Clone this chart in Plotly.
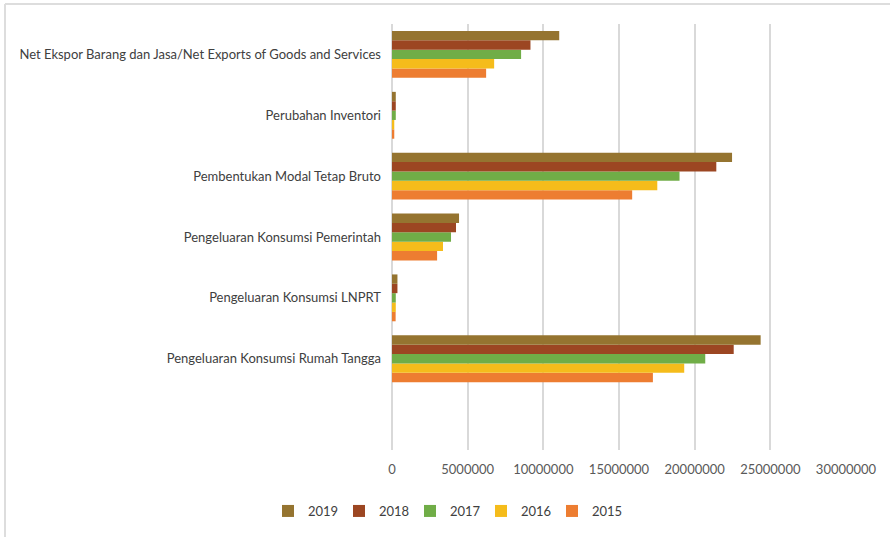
import plotly.graph_objects as go

categories = [
    'Pengeluaran Konsumsi Rumah Tangga',
    'Pengeluaran Konsumsi LNPRT',
    'Pengeluaran Konsumsi Pemerintah',
    'Pembentukan Modal Tetap Bruto',
    'Perubahan Inventori',
    'Net Ekspor Barang dan Jasa/Net Exports of Goods and Services',
]
years = ['2015', '2016', '2017', '2018', '2019']
v2015 = [17240000, 240000, 2980000, 15870000, 150000, 6220000]
v2016 = [19310000, 250000, 3370000, 17530000, 150000, 6750000]
v2017 = [20700000, 250000, 3900000, 19000000, 250000, 8530000]
v2018 = [22580000, 360000, 4230000, 21430000, 250000, 9150000]
v2019 = [24360000, 360000, 4430000, 22470000, 250000, 11050000]
values = [v2015, v2016, v2017, v2018, v2019]
colors = {'2015': '#ED7D31', '2016': '#F5BC1B', '2017': '#70AD47',
          '2018': '#9C4622', '2019': '#957430'}

font = 'Lato, Open Sans, sans-serif'
W, H = 890, 537
L, R, T, B = 392, 44, 24, 87
pw, ph = W - L - R, H - T - B


def main():
    fig = go.Figure()
    for yr, vals in zip(years, values):
        fig.add_trace(go.Bar(y=categories, x=vals, name=yr, orientation='h',
                             marker=dict(color=colors[yr], line=dict(width=0))))

    # light frame: top and left edges only, like the reference
    fx = (5 - L) / pw
    fy = (H - B - 4) / ph
    fig.update_layout(
        barmode='group', bargap=0.23, bargroupgap=0,
        width=W, height=H,
        margin=dict(l=L, r=R, t=T, b=B, autoexpand=False),
        plot_bgcolor='white', paper_bgcolor='white',
        font=dict(family=font, size=13, color='#404040'),
        showlegend=True,
        legend=dict(orientation='h', traceorder='reversed', x=(268 - L) / pw, xanchor='left',
                    y=(H - B - 511) / ph, yanchor='middle', font=dict(size=13, color='#404040'),
                    itemwidth=30, entrywidth=26, entrywidthmode='pixels'),
        shapes=[
            dict(type='line', xref='paper', yref='paper', x0=fx, x1=(W - L) / pw + 0.1,
                 y0=fy, y1=fy, line=dict(color='#DDDDDD', width=2)),
            dict(type='line', xref='paper', yref='paper', x0=fx, x1=fx,
                 y0=fy, y1=-(B + 10) / ph, line=dict(color='#DDDDDD', width=2)),
        ],
    )
    fig.update_xaxes(range=[0, 30000000], dtick=5000000, tickformat='d',
                     showgrid=True, gridcolor='#D9D9D9', gridwidth=1.5,
                     zeroline=True, zerolinecolor='#D9D9D9', zerolinewidth=1.5,
                     tickfont=dict(size=13, color='#595959'), ticklen=0,
                     ticklabelstandoff=10, automargin=False)
    fig.update_yaxes(type='category', range=[-1.5, 5.5], showgrid=False,
                     tickfont=dict(size=13, color='#404040'), ticks='',
                     ticklabelstandoff=10, automargin=False)
    fig.write_html('out.html', config={'displayModeBar': False},
                   post_script="document.body.style.margin='0';")


if __name__ == '__main__':
    main()
